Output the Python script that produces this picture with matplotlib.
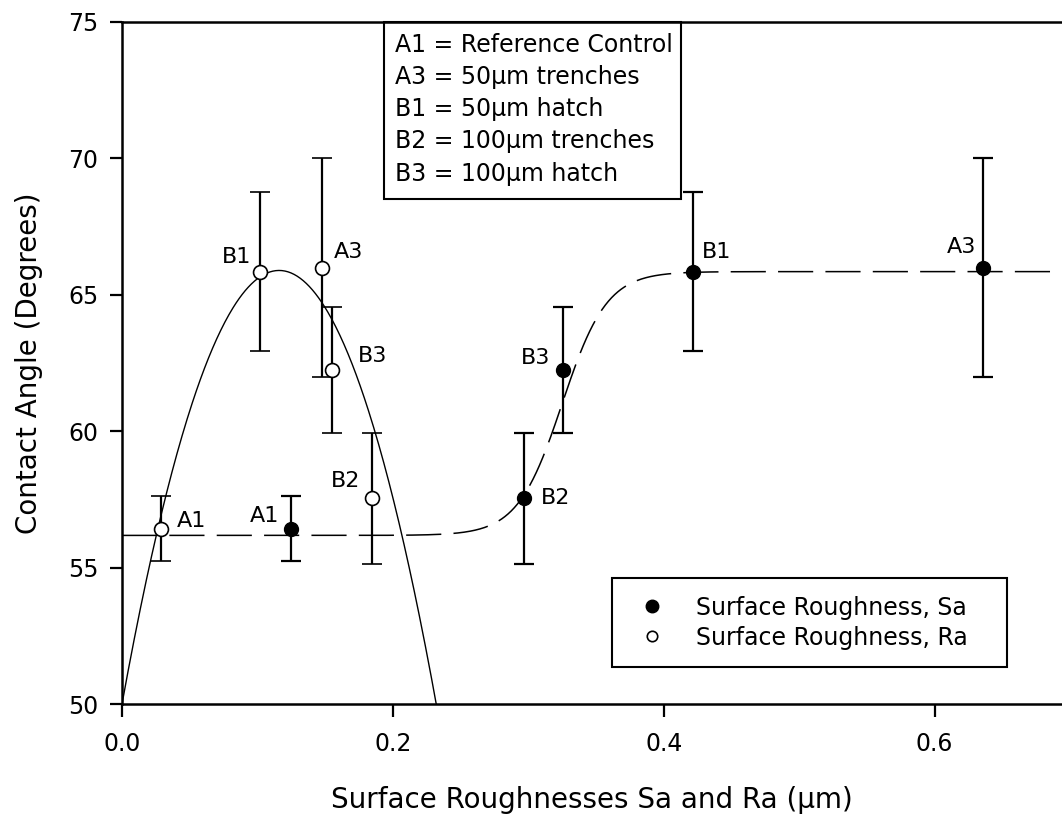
import numpy as np
import matplotlib
matplotlib.use("Agg")
import matplotlib.pyplot as plt
from matplotlib.lines import Line2D
from matplotlib.patches import Rectangle

# ---- data ----
labels = ["A1", "B1", "A3", "B3", "B2"]
sa_x = [0.125, 0.4217, 0.636, 0.3256, 0.2965]
ra_x = [0.0285, 0.1017, 0.1478, 0.1548, 0.1843]
angle = [56.43, 65.85, 66.0, 62.24, 57.54]
angle_err = [1.2, 2.9, 4.0, 2.3, 2.4]

# fit curves
ra_fit_coef = [-1181.0, 274.0, 50.0]      # quadratic (solid line)
sa_fit = [56.18, 9.67, 0.325, 0.0165]     # sigmoid y0, a, x0, b (dashed line)

x_ticks = [0.0, 0.2, 0.4, 0.6]
y_ticks = [50, 55, 60, 65, 70, 75]

key_lines = ["A1 = Reference Control", "A3 = 50\u00b5m trenches", "B1 = 50\u00b5m hatch",
             "B2 = 100\u00b5m trenches", "B3 = 100\u00b5m hatch"]
series_names = ["Surface Roughness, Sa", "Surface Roughness, Ra"]

plt.rcParams['font.family'] = ['DejaVu Sans']

fig = plt.figure(figsize=(10.62, 8.21), dpi=100)
ax = fig.add_axes([122/1062, 1-704/821, 940/1062, 682/821])
ax.set_xlim(0, 0.694)
ax.set_ylim(50, 75)

# fit curves
xq = np.linspace(0, 0.3, 400)
ax.plot(xq, np.polyval(ra_fit_coef, xq), color='black', lw=1.0, zorder=2)

xs = np.linspace(0, 0.694, 600)
y0, a, x0, b = sa_fit
ln, = ax.plot(xs, y0 + a / (1 + np.exp(-(xs - x0) / b)), color='black', lw=1.1, zorder=2)
ln.set_dashes([23, 8])

# error bars + markers
ax.errorbar(sa_x, angle, yerr=angle_err, fmt='o', color='black', ms=10, mfc='black',
            mec='black', ecolor='black', elinewidth=1.6, capsize=7, capthick=1.6, zorder=3)
ax.errorbar(ra_x, angle, yerr=angle_err, fmt='o', color='black', ms=10, mfc='white',
            mec='black', mew=1.2, ecolor='black', elinewidth=1.6, capsize=7, capthick=1.6,
            zorder=3)

# point labels (offsets in pixels)
sa_off = {"A1": (-12, 13, 'right'), "B1": (9, 20, 'left'), "A3": (-7, 21, 'right'),
          "B3": (-13, 12, 'right'), "B2": (17, 0, 'left')}
ra_off = {"A1": (16, 8, 'left'), "B1": (-8, 15, 'right'), "A3": (12, 16, 'left'),
          "B3": (26, 14, 'left'), "B2": (-11, 17, 'right')}
for lab, xv, yv in zip(labels, sa_x, angle):
    dx, dy, ha = sa_off[lab]
    ax.annotate(lab, (xv, yv), xytext=(dx, dy), textcoords='offset pixels',
                ha=ha, va='center', fontsize=16)
for lab, xv, yv in zip(labels, ra_x, angle):
    dx, dy, ha = ra_off[lab]
    ax.annotate(lab, (xv, yv), xytext=(dx, dy), textcoords='offset pixels',
                ha=ha, va='center', fontsize=16)

# key box
ax.add_patch(Rectangle((0.2787, 0.7405), 0.316, 0.2595, transform=ax.transAxes,
                       fill=False, edgecolor='black', lw=1.5, zorder=4, clip_on=False))
for i, t in enumerate(key_lines):
    ax.text(0.2904, 0.967 - i * 0.0474, t, transform=ax.transAxes, ha='left', va='center',
            fontsize=17)

handles = [Line2D([], [], ls='none', marker='o', ms=9, mfc='black', mec='black'),
           Line2D([], [], ls='none', marker='o', ms=7.5, mfc='white', mec='black', mew=1.2)]
leg = ax.legend(handles, series_names, loc='upper left',
                bbox_to_anchor=(0.5213, 0.1848, 0.4202, 0), mode='expand',
                borderaxespad=0, fontsize=17, frameon=True, fancybox=False, framealpha=1,
                edgecolor='black', borderpad=0.75, handlelength=1.9, handletextpad=0.9,
                labelspacing=0.25)
leg.get_frame().set_linewidth(1.5)

ax.spines['right'].set_visible(False)
for s in ['left', 'bottom', 'top']:
    ax.spines[s].set_linewidth(1.8)
ax.set_xticks(x_ticks)
ax.set_xticklabels([f"{v:.1f}" for v in x_ticks])
ax.set_yticks(y_ticks)
ax.tick_params(direction='out', length=9, width=1.6, labelsize=17)
ax.tick_params(axis='x', pad=11)
ax.tick_params(axis='y', pad=8)
ax.set_xlabel("Surface Roughnesses Sa and Ra (\u00b5m)", fontsize=20, labelpad=22)
ax.set_ylabel("Contact Angle (Degrees)", fontsize=20, labelpad=18)

fig.savefig("out.png", dpi=100)
